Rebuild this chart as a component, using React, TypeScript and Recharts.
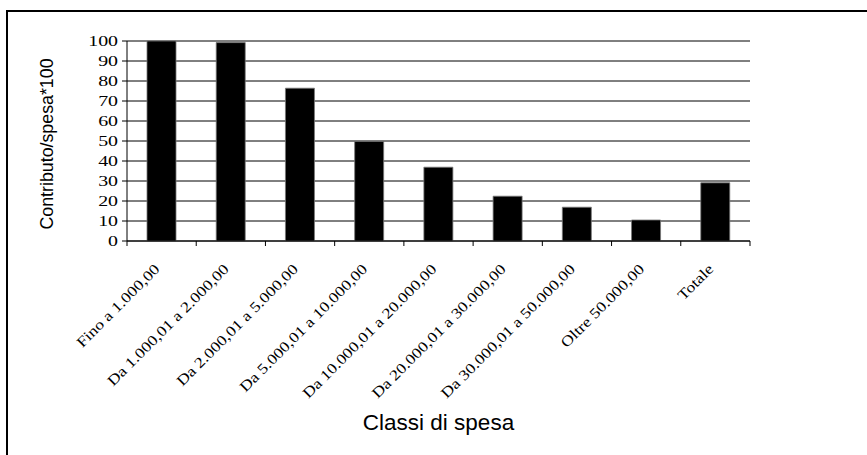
import React from 'react';
import { BarChart, Bar, XAxis, YAxis, CartesianGrid } from 'recharts';

const categories = [
  'Fino a 1.000,00',
  'Da 1.000,01 a 2.000,00',
  'Da 2.000,01 a 5.000,00',
  'Da 5.000,01 a 10.000,00',
  'Da 10.000,01 a 20.000,00',
  'Da 20.000,01 a 30.000,00',
  'Da 30.000,01 a 50.000,00',
  'Oltre 50.000,00',
  'Totale',
];
const values = [100, 99.2, 76.4, 49.8, 36.9, 22.4, 16.9, 10.5, 29.1];
const yTicks = [0, 10, 20, 30, 40, 50, 60, 70, 80, 90, 100];
const yTitle = 'Contributo/spesa*100';
const xTitle = 'Classi di spesa';

const data = categories.map((name, i) => ({ name, value: values[i] }));

const SERIF = '"Liberation Serif", "Times New Roman", serif';
const SANS = '"Liberation Sans", Arial, sans-serif';

const YTick = (props: any) => {
  const { x, y, payload } = props;
  return (
    <g transform={`translate(${x - 2},${y}) scale(1.42,1)`}>
      <text x={0} y={0} dy="0.36em" textAnchor="end" fontFamily={SERIF} fontSize={14} fill="#000">
        {payload.value}
      </text>
    </g>
  );
};

const XTick = (props: any) => {
  const { x, y, payload, index, visibleTicksCount, width } = props;
  const half =
    typeof payload.offset === 'number' && payload.offset > 0
      ? payload.offset
      : width / (visibleTicksCount * 2);
  const isLast = index === visibleTicksCount - 1;
  return (
    <g>
      <line x1={x - half} y1={y} x2={x - half} y2={y + 5} stroke="#000" strokeWidth={1} />
      {isLast && (
        <line x1={x + half} y1={y} x2={x + half} y2={y + 5} stroke="#000" strokeWidth={1} />
      )}
      <g transform={`translate(${x - 1},${y + 29}) rotate(-45) scale(1.2,1)`}>
        <text x={0} y={0} textAnchor="end" fontFamily={SERIF} fontSize={14.7} fill="#000">
          {payload.value}
        </text>
      </g>
    </g>
  );
};

const XTitle = (props: any) => {
  const vb = props.viewBox;
  return (
    <text
      x={vb.x + vb.width / 2}
      y={vb.y + 189}
      textAnchor="middle"
      fontFamily={SANS}
      fontSize={22.5}
      fill="#000"
    >
      {xTitle}
    </text>
  );
};

const YTitle = (props: any) => {
  const vb = props.viewBox;
  const cx = vb.x + 53;
  const cy = vb.y + vb.height / 2 + 3;
  return (
    <text
      x={cx}
      y={cy}
      transform={`rotate(-90, ${cx}, ${cy})`}
      textAnchor="middle"
      fontFamily={SANS}
      fontSize={17.8}
      fill="#000"
    >
      {yTitle}
    </text>
  );
};

export default function App() {
  return (
    <div
      style={{
        position: 'absolute',
        left: 0,
        top: 0,
        width: 867,
        height: 455,
        overflow: 'hidden',
        background: '#fff',
      }}
    >
      <div
        style={{
          position: 'absolute',
          left: 6,
          top: 10,
          width: 900,
          height: 500,
          borderLeft: '2px solid #000',
          borderTop: '2px solid #000',
        }}
      />
      <div style={{ position: 'absolute', left: 0, top: 0 }}>
        <BarChart
          width={867}
          height={455}
          data={data}
          margin={{ top: 41, right: 117, bottom: 14, left: 0 }}
        >
          <CartesianGrid horizontal vertical={false} stroke="#000" strokeWidth={1} />
          <XAxis
            dataKey="name"
            height={200}
            interval={0}
            tick={<XTick />}
            tickLine={false}
            tickSize={0}
            tickMargin={0}
            axisLine={{ stroke: '#000', strokeWidth: 1 }}
            label={{ content: <XTitle /> }}
          />
          <YAxis
            width={127}
            domain={[0, 100]}
            ticks={yTicks}
            interval={0}
            tick={<YTick />}
            tickSize={5}
            axisLine={{ stroke: '#000', strokeWidth: 1 }}
            tickLine={{ stroke: '#000', strokeWidth: 1 }}
            label={{ content: <YTitle /> }}
          />
          <YAxis
            yAxisId="right"
            orientation="right"
            width={0}
            domain={[0, 100]}
            tick={false}
            tickLine={false}
            axisLine={{ stroke: '#888', strokeWidth: 1 }}
          />
          <Bar
            dataKey="value"
            fill="#000"
            stroke="#777"
            strokeWidth={0.8}
            barSize={29}
            isAnimationActive={false}
          />
        </BarChart>
      </div>
    </div>
  );
}
